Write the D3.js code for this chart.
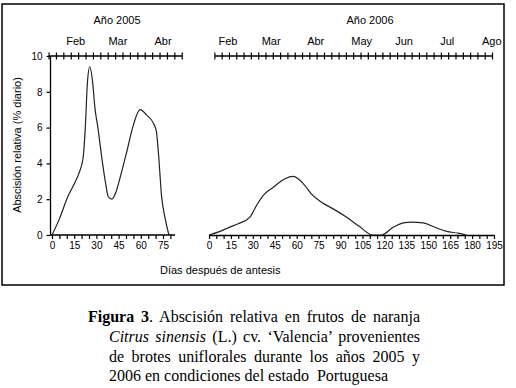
<!DOCTYPE html>
<html>
<head>
<meta charset="utf-8">
<script src="https://cdn.jsdelivr.net/npm/d3@7"></script>
<style>
  body { margin: 0; background: #fff; }
  svg { display: block; }
  .sans { font-family: Arial, "Liberation Sans", sans-serif; font-size: 11px; fill: #000; }
  g.tick text.sans { font-size: 10px; }
  .serif { font-family: "Times New Roman", "Liberation Serif", serif; font-size: 16px; fill: #000; }
</style>
</head>
<body>
<svg id="body" width="516" height="388"></svg>
<script>
// datos
let dias2005 = [0, 5, 11, 15, 18, 21, 22.5, 24, 25.5, 27.5, 29, 31, 34, 36, 38, 40.5, 43, 46, 50.5, 54.5, 59.5, 64, 68.5, 70.5, 72, 74, 76.5, 79];
let abs2005 = [0, 0.9, 2.2, 2.85, 3.4, 4.3, 6.0, 8.6, 9.4, 8.5, 7.1, 6.0, 4.1, 3.0, 2.15, 2.0, 2.35, 3.2, 4.65, 6.0, 7.0, 6.7, 6.25, 5.8, 4.5, 2.2, 0.9, 0];

let dias2006 = [0, 7.5, 13, 20, 28, 32.5, 37, 44, 52, 57.5, 61, 65.5, 70, 77, 85, 94, 103, 112, 118, 126, 133, 138.5, 146.5, 154.5, 162.5, 170.5, 176];
let abs2006 = [0, 0.2, 0.4, 0.63, 1.0, 1.65, 2.2, 2.67, 3.14, 3.27, 3.14, 2.77, 2.3, 1.83, 1.46, 1.0, 0.47, 0, 0, 0.43, 0.68, 0.72, 0.68, 0.43, 0.2, 0.1, 0];

let yTicks = [0, 2, 4, 6, 8, 10];
let xTicks2005 = [0, 15, 30, 45, 60, 75];
let xTicks2006 = [0, 15, 30, 45, 60, 75, 90, 105, 120, 135, 150, 165, 180, 195];

let meses2005 = ["Feb", "Mar", "Abr"];
let diaMes2005 = [16, 44.5, 75];
let meses2006 = ["Feb", "Mar", "Abr", "May", "Jun", "Jul", "Ago"];
let diaMes2006 = [13, 42.5, 73, 104.5, 133.5, 163, 193.5];

let caption = [
  ["Figura 3", ". Abscisión relativa en frutos de naranja"],
  ["Citrus sinensis", " (L.) cv. ‘Valencia’ provenientes"],
  ["", "de brotes uniflorales durante los años 2005 y"],
  ["", "2006 en condiciones del estado  Portuguesa"]
];

let svg = d3.select("#body");

// marco
svg.append("rect")
  .attr("x", 2).attr("y", 4)
  .attr("width", 502).attr("height", 281)
  .attr("fill", "none").attr("stroke", "#000").attr("stroke-width", 1.5);

let yScale = d3.scaleLinear().domain([0, 10]).range([235, 56]);
let x2005 = d3.scaleLinear().domain([0, 75]).range([52, 163]);
let x2006 = d3.scaleLinear().domain([0, 195]).range([209, 494]);

function axisStyle(g) {
  g.selectAll(".domain").attr("stroke", "#000").attr("stroke-width", 1.3);
  g.selectAll(".tick line").attr("stroke", "#000").attr("stroke-width", 1.2);
  g.selectAll("text").attr("class", "sans").attr("font-size", null).attr("font-family", null);
}

// eje y (solo panel 2005)
svg.append("g")
  .attr("transform", "translate(50,0)")
  .call(d3.axisLeft(yScale).tickValues(yTicks).tickSize(3.5).tickPadding(4).tickSizeOuter(0))
  .call(axisStyle);

// ejes inferiores
let bottom2005 = d3.range(0, 81, 5);
svg.append("g")
  .attr("transform", "translate(0,235)")
  .call(d3.axisBottom(x2005).tickValues(bottom2005).tickSize(4).tickPadding(3).tickSizeOuter(0)
    .tickFormat(d => xTicks2005.includes(d) ? d : ""))
  .call(axisStyle)
  .call(g => g.select(".domain").attr("d", "M50,0H175"));

let bottom2006 = d3.range(0, 196, 5);
svg.append("g")
  .attr("transform", "translate(0,235)")
  .call(d3.axisBottom(x2006).tickValues(bottom2006).tickSize(4).tickPadding(3).tickSizeOuter(0)
    .tickFormat(d => xTicks2006.includes(d) ? d : ""))
  .call(axisStyle);

// ejes superiores con cruces (cada 5 dias)
function topAxis(scale, start, end) {
  let g = svg.append("g").attr("transform", "translate(0,56)");
  g.append("line")
    .attr("x1", scale(start)).attr("x2", scale(end))
    .attr("stroke", "#000").attr("stroke-width", 1.3);
  g.selectAll("line.tk")
    .data(d3.range(start, end + 0.1, 5))
    .enter().append("line")
    .attr("class", "tk")
    .attr("x1", d => scale(d)).attr("x2", d => scale(d))
    .attr("y1", -3.5).attr("y2", 3.5)
    .attr("stroke", "#000").attr("stroke-width", 1.2);
}
topAxis(x2005, -2, 88);
topAxis(x2006, 4, 194);

// meses
svg.selectAll("text.m05")
  .data(meses2005).enter().append("text")
  .attr("class", "sans")
  .attr("text-anchor", "middle")
  .attr("x", (d, i) => x2005(diaMes2005[i]))
  .attr("y", 45)
  .text(d => d);

svg.selectAll("text.m06")
  .data(meses2006).enter().append("text")
  .attr("class", "sans")
  .attr("text-anchor", "middle")
  .attr("x", (d, i) => x2006(diaMes2006[i]))
  .attr("y", 45)
  .text(d => d);

svg.append("text").attr("class", "sans").attr("text-anchor", "middle")
  .attr("x", 117).attr("y", 24).text("Año 2005");
svg.append("text").attr("class", "sans").attr("text-anchor", "middle")
  .attr("x", 370).attr("y", 24).text("Año 2006");

// titulos de ejes
svg.append("text").attr("class", "sans").attr("text-anchor", "middle")
  .attr("transform", "translate(21,145) rotate(-90)")
  .text("Abscisión relativa (% diario)");
svg.append("text").attr("class", "sans")
  .attr("x", 160).attr("y", 274)
  .text("Días después de antesis");

// curvas
let line2005 = d3.line()
  .x((d, i) => x2005(dias2005[i]))
  .y(d => yScale(d))
  .curve(d3.curveMonotoneX);
let line2006 = d3.line()
  .x((d, i) => x2006(dias2006[i]))
  .y(d => yScale(d))
  .curve(d3.curveMonotoneX);

svg.append("path").datum(abs2005)
  .attr("d", line2005)
  .attr("fill", "none").attr("stroke", "#222").attr("stroke-width", 1.2);
svg.append("path").datum(abs2006)
  .attr("d", line2006)
  .attr("fill", "none").attr("stroke", "#222").attr("stroke-width", 1.2);

// leyenda de la figura (justificada)
let capX = [88, 109, 109, 109];
let capY = [322, 342, 362, 381];
let capW = [332, 311, 311, 0];
caption.forEach((c, i) => {
  let t = svg.append("text").attr("class", "serif")
    .attr("x", capX[i]).attr("y", capY[i])
    .attr("xml:space", "preserve");
  if (c[0] !== "") {
    t.append("tspan")
      .attr("font-weight", i === 0 ? "bold" : null)
      .attr("font-style", i === 1 ? "italic" : null)
      .text(c[0]);
  }
  t.append("tspan").text(c[1]);
  if (capW[i] > 0) {
    let natural = t.node().getComputedTextLength();
    let spaces = (c[0] + c[1]).split(" ").length - 1;
    t.attr("word-spacing", (capW[i] - natural) / spaces);
  }
});
</script>
</body>
</html>
